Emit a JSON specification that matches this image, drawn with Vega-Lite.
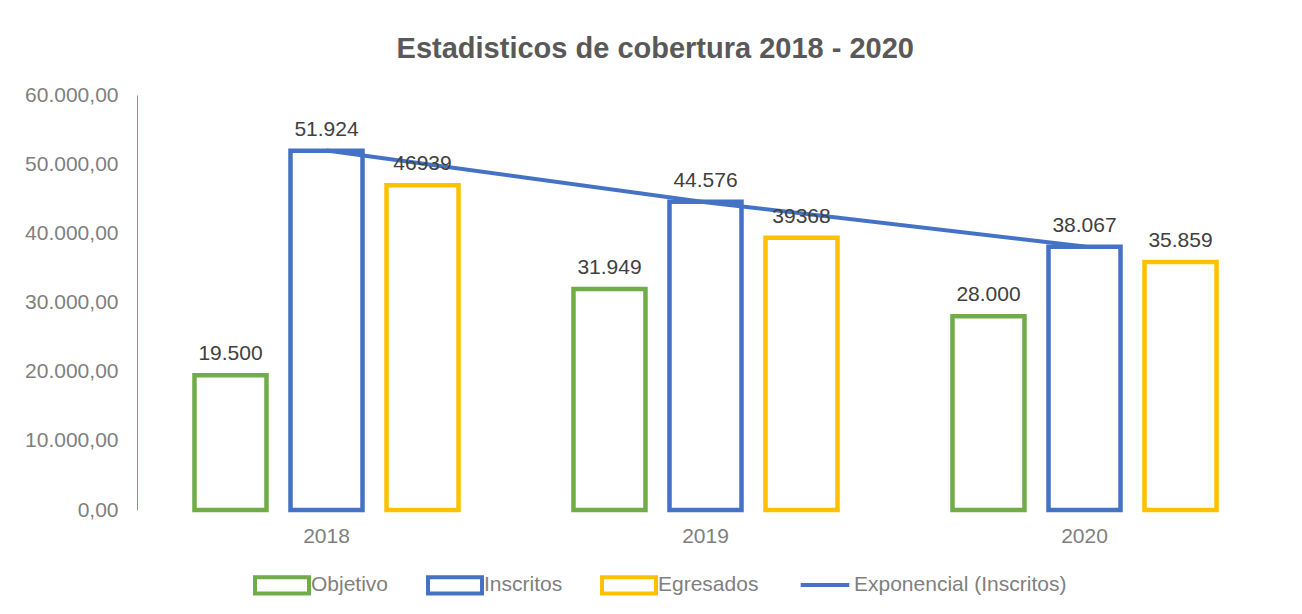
{
  "$schema": "https://vega.github.io/schema/vega-lite/v6.json",
  "width": 1137,
  "height": 415,
  "autosize": {"type": "none"},
  "padding": {"left": 137, "top": 95, "right": 28, "bottom": 104},
  "background": "white",
  "title": {
    "text": "Estadisticos de cobertura 2018 - 2020",
    "fontSize": 29,
    "fontWeight": "bold",
    "color": "#595959",
    "anchor": "middle",
    "frame": "bounds",
    "offset": 20,
    "dx": 6
  },
  "datasets": {
    "bars": [
      {"year": "2018", "serie": "Objetivo", "value": 19500, "label": "19.500"},
      {"year": "2018", "serie": "Inscritos", "value": 51924, "label": "51.924"},
      {"year": "2018", "serie": "Egresados", "value": 46939, "label": "46939"},
      {"year": "2019", "serie": "Objetivo", "value": 31949, "label": "31.949"},
      {"year": "2019", "serie": "Inscritos", "value": 44576, "label": "44.576"},
      {"year": "2019", "serie": "Egresados", "value": 39368, "label": "39368"},
      {"year": "2020", "serie": "Objetivo", "value": 28000, "label": "28.000"},
      {"year": "2020", "serie": "Inscritos", "value": 38067, "label": "38.067"},
      {"year": "2020", "serie": "Egresados", "value": 35859, "label": "35.859"}
    ],
    "trend": [
      {"year": "2018", "serie": "Exponencial (Inscritos)", "value": 51970},
      {"year": "2019", "serie": "Exponencial (Inscritos)", "value": 44498},
      {"year": "2020", "serie": "Exponencial (Inscritos)", "value": 38101}
    ]
  },
  "layer": [
    {
      "data": {"name": "bars"},
      "mark": {"type": "bar", "fill": "white", "strokeWidth": 4.5, "strokeJoin": "miter"},
      "encoding": {
        "x": {
          "field": "year", "type": "nominal",
          "scale": {"paddingInner": 0.24, "paddingOuter": 0.12},
          "axis": {"title": null, "domain": false, "ticks": false, "labelAngle": 0, "labelFontSize": 21, "labelColor": "#7F7F7F", "labelPadding": 15}
        },
        "xOffset": {
          "field": "serie", "type": "nominal",
          "sort": ["Objetivo", "Inscritos", "Egresados"],
          "scale": {"domain": ["Objetivo", "Inscritos", "Egresados"], "paddingInner": 0.25, "paddingOuter": 0.125}
        },
        "y": {
          "field": "value", "type": "quantitative",
          "scale": {"domain": [0, 60000], "nice": false},
          "axis": {"title": null, "values": [0, 10000, 20000, 30000, 40000, 50000, 60000], "format": ",.2f", "grid": false, "ticks": false, "domain": true, "domainColor": "#6D93D1", "domainWidth": 1, "labelFontSize": 21, "labelColor": "#7F7F7F", "labelPadding": 19}
        },
        "stroke": {
          "field": "serie", "type": "nominal",
          "sort": ["Objetivo", "Inscritos", "Egresados"],
          "scale": {
            "domain": ["Objetivo", "Inscritos", "Egresados"],
            "range": ["#70AD47", "#4472C4", "#FFC000"]
          },
          "legend": {
            "title": null,
            "orient": "none",
            "legendX": 116,
            "legendY": 461,
            "direction": "horizontal",
            "padding": 0,
            "symbolType": "M-1,-0.3L1,-0.3L1,0.3L-1,0.3Z",
            "symbolSize": 2916,
            "symbolStrokeWidth": 4,
            "symbolFillColor": "white",
            "labelFontSize": 21,
            "labelColor": "#7F7F7F",
            "labelOffset": 0,
            "columnPadding": 31,
            "labelLimit": 400
          }
        }
      }
    },
    {
      "data": {"name": "trend"},
      "mark": {"type": "line", "strokeWidth": 4},
      "encoding": {
        "x": {"field": "year", "type": "nominal", "bandPosition": 0.5},
        "y": {"field": "value", "type": "quantitative"},
        "color": {
          "field": "serie", "type": "nominal",
          "scale": {"domain": ["Exponencial (Inscritos)"], "range": ["#4472C4"]},
          "legend": {
            "title": null,
            "orient": "none",
            "legendX": 659,
            "legendY": 461,
            "direction": "horizontal",
            "padding": 0,
            "symbolType": "M-0.9,0L0.9,0",
            "symbolSize": 2916,
            "symbolStrokeWidth": 4,
            "labelFontSize": 21,
            "labelColor": "#7F7F7F",
            "labelOffset": 0,
            "labelLimit": 400
          }
        }
      }
    },
    {
      "data": {"name": "bars"},
      "mark": {"type": "text", "fontSize": 21, "color": "#404040", "baseline": "alphabetic", "dy": -15},
      "encoding": {
        "x": {"field": "year", "type": "nominal"},
        "xOffset": {"field": "serie", "type": "nominal", "sort": ["Objetivo", "Inscritos", "Egresados"]},
        "y": {"field": "value", "type": "quantitative"},
        "text": {"field": "label", "type": "nominal"}
      }
    }
  ],
  "resolve": {"scale": {"color": "independent", "stroke": "independent"}},
  "config": {
    "font": "Liberation Sans",
    "view": {"stroke": null},
    "locale": {
      "number": {"decimal": ",", "thousands": ".", "grouping": [3], "currency": ["", " €"]}
    }
  }
}
